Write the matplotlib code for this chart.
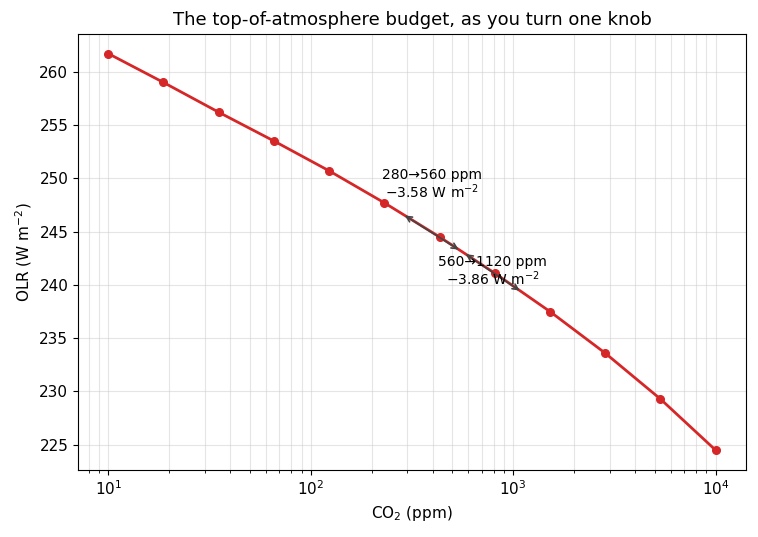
import numpy as np
import matplotlib
matplotlib.use("Agg")
import matplotlib.pyplot as plt

# CO2 concentration (ppm) and outgoing longwave radiation
co2_ppm = [10, 18.7, 35.1, 65.8, 123.3, 231.0, 432.9, 811.1, 1519.9, 2848.0, 5336.7, 10000]
olr = [261.7, 259.0, 256.2, 253.5, 250.7, 247.7, 244.5, 241.1, 237.5, 233.6, 229.3, 224.5]

# doubling steps that are annotated
doublings = [(280, 560), (560, 1120)]
doubling_labels = ["280\u2192560 ppm\n\u22123.58 W m$^{-2}$",
                   "560\u21921120 ppm\n\u22123.86 W m$^{-2}$"]
label_offsets = [4.5, 0.1]


def olr_at(c):
    return np.interp(np.log10(c), np.log10(co2_ppm), olr)


fig, ax = plt.subplots(figsize=(7.58, 5.37), dpi=100)
fig.subplots_adjust(left=0.103, right=0.984, top=0.937, bottom=0.125)

ax.plot(co2_ppm, olr, "-o", color="#d62728", lw=2, ms=5.5)
ax.set_xscale("log")

for (c0, c1), lab, off in zip(doublings, doubling_labels, label_offsets):
    y0, y1 = olr_at(c0), olr_at(c1)
    ax.annotate("", xy=(c1, y1), xytext=(c0, y0),
                arrowprops=dict(arrowstyle="<->", color="#444444", lw=1.2,
                                shrinkA=3, shrinkB=3))
    xm = np.sqrt(c0 * c1)
    ax.text(xm, (y0 + y1) / 2 + off, lab, ha="center", va="center",
            fontsize=10, linespacing=1.0)

ax.grid(True, which="both", color="#cccccc", alpha=0.5, lw=0.8)
ax.set_yticks(np.arange(225, 261, 5))
ax.tick_params(labelsize=11)
ax.set_xlabel("CO$_2$ (ppm)", fontsize=11)
ax.set_ylabel("OLR (W m$^{-2}$)", fontsize=11)
ax.set_title("The top-of-atmosphere budget, as you turn one knob", fontsize=13)

fig.savefig("out.png", dpi=100)
